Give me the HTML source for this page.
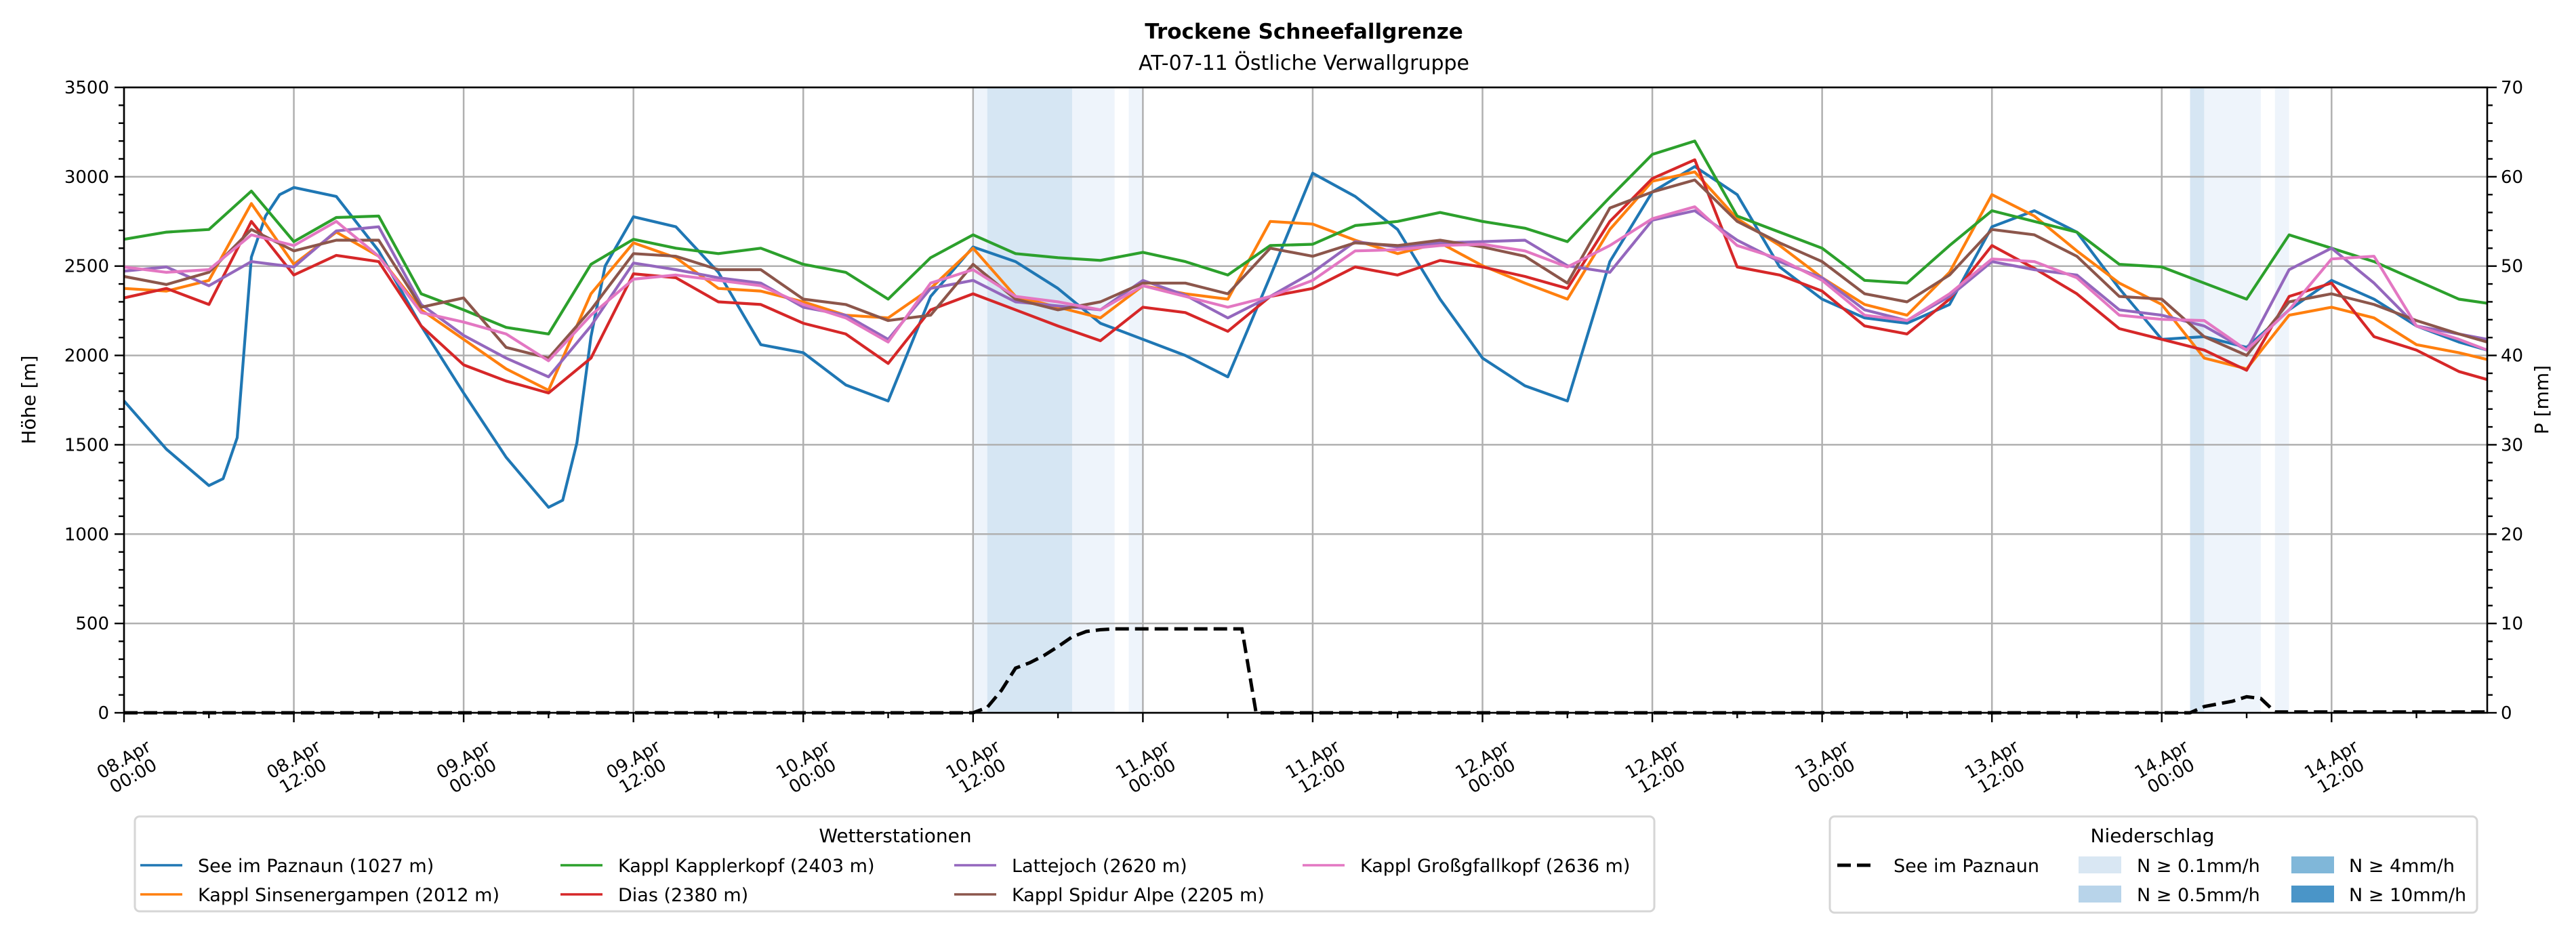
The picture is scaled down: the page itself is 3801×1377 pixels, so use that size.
<!DOCTYPE html>
<html><head><meta charset="utf-8">
<style>
html,body{margin:0;padding:0;background:#fff;}
svg{display:block;font-family:"DejaVu Sans","Liberation Sans",sans-serif;}
</style></head>
<body>
<svg id="chart" width="3801" height="1377" viewBox="0 0 3801 1377" xmlns="http://www.w3.org/2000/svg">
<text x="1924" y="57" text-anchor="middle" font-size="31" font-weight="bold">Trockene Schneefallgrenze</text>
<text x="1924" y="103" text-anchor="middle" font-size="30">AT-07-11 Östliche Verwallgruppe</text>
<g id="spans"></g>
<g id="grid"></g>
<g id="series"></g>
<g id="axes"></g>
<text transform="translate(52,590) rotate(-90)" text-anchor="middle" font-size="28">Höhe [m]</text>
<text transform="translate(3760,590) rotate(-90)" text-anchor="middle" font-size="28">P [mm]</text>
<g id="legend1">
<rect x="199" y="1205" width="2242" height="140" rx="7" fill="#fff" stroke="#d6d6d6" stroke-width="3"/>
<text x="1321" y="1243" text-anchor="middle" font-size="28">Wetterstationen</text>
</g>
<g id="legend2">
<rect x="2700" y="1205" width="955" height="142" rx="7" fill="#fff" stroke="#d6d6d6" stroke-width="3"/>
<text x="3176" y="1243" text-anchor="middle" font-size="28">Niederschlag</text>
<line x1="2711" y1="1277" x2="2769" y2="1277" stroke="#000" stroke-width="5" stroke-dasharray="20,9"/>
<text x="2794" y="1287" font-size="27">See im Paznaun</text>
<rect x="3067" y="1264" width="63" height="25" fill="#d9e7f3"/>
<text x="3153" y="1287" font-size="27">N ≥ 0.1mm/h</text>
<rect x="3067" y="1307" width="63" height="25" fill="#b8d4ea"/>
<text x="3153" y="1330" font-size="27">N ≥ 0.5mm/h</text>
<rect x="3381" y="1264" width="63" height="25" fill="#80b7d9"/>
<text x="3466" y="1287" font-size="27">N ≥ 4mm/h</text>
<rect x="3381" y="1307" width="63" height="25" fill="#4a95c8"/>
<text x="3466" y="1330" font-size="27">N ≥ 10mm/h</text>
</g>
</svg>
<script>
const hours = [0,3,6,9,12,15,18,21,24,27,30,33,36,39,42,45,48,51,54,57,60,63,66,69,72,75,78,81,84,87,90,93,96,99,102,105,108,111,114,117,120,123,126,129,132,135,138,141,144,147,150,153,156,159,162,165,167];
const seeHours = [0,3,6,7,8,9,10,11,12,15,18,21,24,27,30,31,32,33,34,36,39,42,45,48,51,54,57,60,63,66,69,72,75,78,81,84,87,90,93,96,99,102,105,108,111,114,117,120,123,126,129,132,135,138,141,144,147,150,153,156,159,162,165,167];
const seeVals = [1745,1475,1272,1310,1540,2550,2780,2900,2940,2890,2585,2165,1790,1430,1150,1190,1510,2105,2500,2776,2720,2465,2060,2015,1835,1745,2330,2607,2525,2375,2180,2090,2000,1880,2442,3020,2890,2705,2315,1985,1830,1745,2525,2915,3057,2900,2495,2315,2210,2180,2285,2720,2810,2690,2375,2090,2105,2045,2255,2420,2315,2165,2075,2030];
const sinsVals = [2375,2360,2420,2850,2510,2690,2555,2255,2090,1925,1805,2345,2630,2547,2375,2360,2300,2225,2210,2375,2600,2330,2270,2210,2390,2345,2315,2750,2735,2645,2570,2630,2502,2405,2315,2705,2975,3027,2765,2615,2435,2285,2225,2465,2900,2780,2585,2405,2285,1985,1925,2225,2270,2210,2060,2015,1977];
const kappVals = [2650,2690,2705,2920,2637,2772,2780,2345,2255,2157,2120,2510,2650,2600,2570,2600,2510,2465,2315,2547,2675,2570,2547,2532,2577,2525,2450,2615,2622,2727,2750,2800,2750,2712,2637,2885,3125,3200,2780,2690,2600,2420,2405,2615,2810,2750,2690,2510,2495,2405,2315,2675,2600,2525,2420,2315,2292];
const diasVals = [2322,2375,2285,2750,2450,2560,2525,2165,1947,1857,1790,1985,2457,2435,2300,2285,2180,2120,1955,2255,2345,2255,2165,2082,2270,2240,2135,2330,2375,2495,2450,2532,2495,2442,2375,2750,2990,3095,2495,2450,2360,2165,2120,2315,2615,2487,2345,2150,2090,2030,1917,2330,2405,2105,2030,1910,1865];
const latteVals = [2472,2495,2390,2525,2495,2697,2720,2285,2112,1985,1880,2165,2517,2480,2435,2405,2270,2225,2090,2375,2420,2300,2277,2255,2420,2337,2210,2330,2465,2637,2607,2630,2637,2645,2502,2465,2757,2810,2645,2525,2435,2255,2195,2330,2525,2480,2450,2255,2225,2165,2030,2480,2600,2405,2165,2120,2090];
const spidVals = [2442,2397,2465,2705,2585,2645,2645,2270,2322,2045,1985,2255,2570,2555,2480,2480,2315,2285,2195,2225,2510,2315,2255,2300,2405,2405,2345,2600,2555,2630,2615,2645,2607,2555,2405,2825,2915,2982,2750,2630,2525,2345,2300,2450,2705,2675,2555,2330,2315,2105,2000,2300,2345,2285,2195,2120,2075];
const grossVals = [2495,2465,2480,2675,2615,2750,2555,2240,2187,2120,1970,2225,2427,2450,2420,2390,2285,2210,2075,2405,2480,2330,2300,2255,2390,2330,2270,2330,2420,2585,2592,2615,2622,2585,2495,2615,2765,2832,2615,2540,2420,2225,2195,2345,2540,2525,2435,2225,2202,2195,2030,2255,2540,2555,2165,2090,2030];
const stationNames = ["See im Paznaun (1027 m)","Kappl Sinsenergampen (2012 m)","Kappl Kapplerkopf (2403 m)","Dias (2380 m)","Lattejoch (2620 m)","Kappl Spidur Alpe (2205 m)","Kappl Großgfallkopf (2636 m)"];
const precipHours = [0,60,61,62,63,64,65,66,67,68,69,70,79,80,146,147,148,149,150,151,152,167];
const precipVals = [0,0,0.6,2.5,5,5.6,6.4,7.4,8.5,9.1,9.3,9.4,9.4,0,0,0.7,1.0,1.3,1.8,1.6,0.1,0.1];
const spanStart = [60,61,67,71,146,147,152];
const spanEnd = [61,67,70,72,147,151,153];
const spanCat = [0,1,0,0,1,0,0];
const yTicks = [0,500,1000,1500,2000,2500,3000,3500];
const pTicks = [0,10,20,30,40,50,60,70];
const xTickDays = ["08.Apr","08.Apr","09.Apr","09.Apr","10.Apr","10.Apr","11.Apr","11.Apr","12.Apr","12.Apr","13.Apr","13.Apr","14.Apr","14.Apr"];
const xTickTimes = ["00:00","12:00","00:00","12:00","00:00","12:00","00:00","12:00","00:00","12:00","00:00","12:00","00:00","12:00"];

const L=183,R=3670,T=129,B=1052,HMAX=167;
const X=h=>L+h*(R-L)/HMAX;
const Y=m=>B-m*(B-T)/3500;
const P=v=>B-v*(B-T)/70;
const NS="http://www.w3.org/2000/svg";
function mk(tag,attrs,parent){const e=document.createElementNS(NS,tag);for(const k in attrs)e.setAttribute(k,attrs[k]);parent.appendChild(e);return e;}
const gSp=document.getElementById('spans'),gG=document.getElementById('grid'),gS=document.getElementById('series'),gA=document.getElementById('axes');
const spanColors=["#eef4fb","#d6e6f3"];
spanStart.forEach((s,i)=>{
  const r=mk('rect',{x:X(s),y:T,width:X(spanEnd[i])-X(s),height:B-T,fill:spanColors[spanCat[i]]},gSp);
  
  
});
yTicks.forEach(v=>{
  const l=mk('line',{x1:L,x2:R,y1:Y(v),y2:Y(v),stroke:'#b0b0b0','stroke-width':2.5},gG);
  
  
});
xTickDays.forEach((d,i)=>{
  const l=mk('line',{x1:X(i*12),x2:X(i*12),y1:T,y2:B,stroke:'#b0b0b0','stroke-width':2.5},gG);
  
  
});
const colors=["#1f77b4","#ff7f0e","#2ca02c","#d62728","#9467bd","#8c564b","#e377c2"];
const allVals=[seeVals,sinsVals,kappVals,diasVals,latteVals,spidVals,grossVals];
allVals.forEach((vals,si)=>{
  const hh=si===0?seeHours:hours;
  const d=vals.map((v,i)=>(i?'L':'M')+X(hh[i]).toFixed(1)+','+Y(v).toFixed(1)).join('');
  const p=mk('path',{d:d,fill:'none',stroke:colors[si],'stroke-width':4.2,'stroke-linejoin':'round'},gS);
  
  
});
const pd=precipVals.map((v,i)=>(i?'L':'M')+X(precipHours[i]).toFixed(1)+','+P(v).toFixed(1)).join('');
const pl=mk('path',{d:pd,fill:'none',stroke:'#000','stroke-width':5,'stroke-dasharray':'20,9'},gS);


const fr=mk('rect',{x:L,y:T,width:R-L,height:B-T,fill:'none',stroke:'#000','stroke-width':2.6},gA);


for(let m=0;m<=3500;m+=100){
  const major=m%500===0;
  const t=mk('line',{x1:L-(major?14:8),x2:L,y1:Y(m),y2:Y(m),stroke:'#000','stroke-width':2.4},gA);
  
  
}
yTicks.forEach(v=>{
  const t=mk('text',{x:L-22,y:Y(v)+9,'text-anchor':'end','font-size':26},gA);
  t.textContent=v;
  
  
});
for(let v=0;v<=70;v+=2){
  const major=v%10===0;
  const t=mk('line',{x1:R,x2:R+(major?14:8),y1:P(v),y2:P(v),stroke:'#000','stroke-width':2.4},gA);
  
  
}
pTicks.forEach(v=>{
  const t=mk('text',{x:R+20,y:P(v)+9,'font-size':26},gA);
  t.textContent=v;
  
  
});
for(let h=0;h<=HMAX;h+=6){
  const major=h%12===0;
  const t=mk('line',{x1:X(h),x2:X(h),y1:B,y2:B+(major?14:8),stroke:'#000','stroke-width':2.4},gA);
  
  
}
xTickDays.forEach((d,i)=>{
  const g=mk('g',{transform:'translate('+(X(i*12)+6)+',1132) rotate(-30)'},gA);
  
  
  const t1=mk('text',{x:0,y:-4,'text-anchor':'middle','font-size':26},g);
  t1.textContent=d;
  const t2=mk('text',{x:0,y:24,'text-anchor':'middle','font-size':26},g);
  t2.textContent=xTickTimes[i];
});
const lg=document.getElementById('legend1');
const colX=[207,827,1408,1922];
stationNames.forEach((n,i)=>{
  const c=Math.floor(i/2),r=i%2;
  const y=r?1320:1277;
  const ln=mk('line',{x1:colX[c],x2:colX[c]+62,y1:y,y2:y,stroke:colors[i],'stroke-width':3.6},lg);
  
  
  const t=mk('text',{x:colX[c]+85,y:y+10,'font-size':27},lg);
  t.textContent=n;
  
  
});
</script>
</body></html>
